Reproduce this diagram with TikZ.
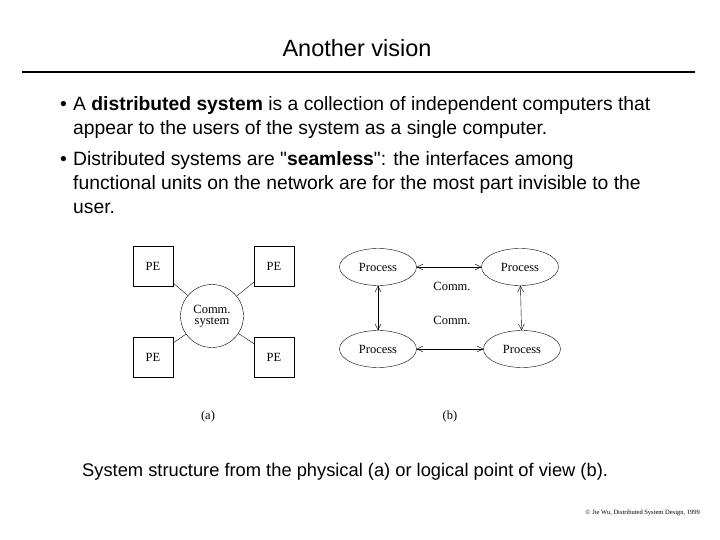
\documentclass[tikz,border=0pt]{standalone}
\usepackage{fontspec}
\setmainfont{Liberation Sans}
\newfontfamily\figfont{Liberation Serif}
\usetikzlibrary{arrows.meta,shapes.geometric}
\begin{document}
\begin{tikzpicture}[x=1pt,y=-1pt,
  pe/.style={draw,thin,minimum size=40pt,inner sep=0pt,font=\figfont\fontsize{12.5}{13}\selectfont},
  proc/.style={draw,thin,ellipse,minimum width=77pt,minimum height=37pt,inner sep=0pt,font=\figfont\fontsize{12.5}{13}\selectfont},
  lbl/.style={font=\figfont\fontsize{12.5}{13}\selectfont},
  bar/.style={draw,thin,{Straight Barb[length=6pt,width=6pt]}-{Straight Barb[length=6pt,width=6pt]}},
  body/.style={anchor=base west,font=\fontsize{19.3}{22}\selectfont,inner sep=0pt}]
\useasboundingbox (0,0) rectangle (720,540);
\node[font=\fontsize{23.5}{26}\selectfont] (title) at (357,48) {Another vision};
\draw[line width=2.5pt] (22,72) coordinate (r1) -- (695,72) coordinate (r2);
\node[body] (b1) at (60,111) {•};
\node[body] (t1) at (73,111) {A \textbf{distributed system} is a collection of independent computers that};
\node[body] (t2) at (73,135) {appear to the users of the system as a single computer.};
\node[body] (b2) at (60,166) {•};
\node[body] (t3) at (73,166) {Distributed systems are \textquotedbl\textbf{seamless}\textquotedbl: the interfaces among};
\node[body] (t4) at (73,190) {functional units on the network are for the most part invisible to the};
\node[body] (t5) at (73,214) {user.};
\node[pe] (p1) at (153,266) {PE};
\node[pe] (p2) at (274,266) {PE};
\node[pe] (p3) at (153,357) {PE};
\node[pe] (p4) at (274,357) {PE};
\node[draw,thin,circle,minimum size=63pt,inner sep=0pt,align=center,lbl] (c) at (212,316) {Comm.\\[-2pt]system};
\foreach \p in {p1,p2,p3,p4} \draw[thin] (c) -- (\p);
\node[proc] (q1) at (378,267) {Process};
\node[proc] (q2) at (520,267) {Process};
\node[proc] (q3) at (378,349) {Process};
\node[proc] (q4) at (522,349) {Process};
\draw[bar] (q1) -- (q2);
\draw[bar] (q3) -- (q4);
\draw[bar] (q1) -- (q3);
\draw[bar] (q2) -- (q4);
\node[lbl] (m1) at (452,286) {Comm.};
\node[lbl] (m2) at (452,320) {Comm.};
\node[lbl] (la) at (208,416) {(a)};
\node[lbl] (lb) at (450,416) {(b)};
\node[anchor=base west,font=\fontsize{18.3}{21}\selectfont,inner sep=0pt] (cap) at (82,476) {System structure from the physical (a) or logical point of view (b).};
\node[anchor=east,font=\figfont\fontsize{6.5}{7}\selectfont,inner sep=0pt] (ft) at (700,513) {© Jie Wu, Distributed System Design, 1999};
\end{tikzpicture}
\end{document}
